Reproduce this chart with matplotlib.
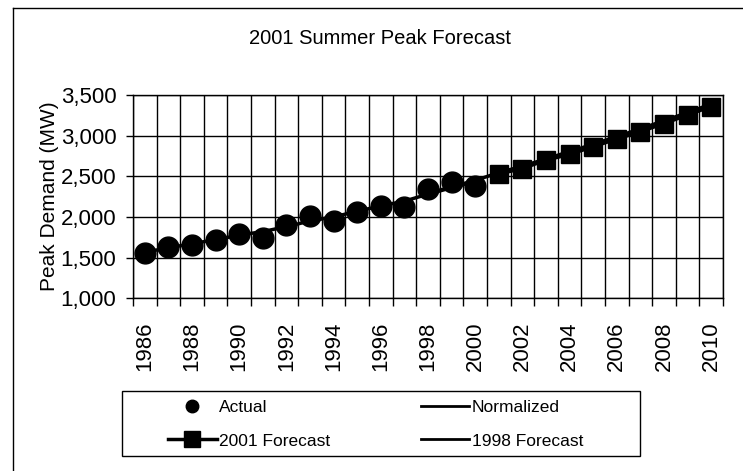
import matplotlib.pyplot as plt
from matplotlib.lines import Line2D
from matplotlib.patches import Rectangle

plt.rcParams['font.family'] = ['Liberation Sans', 'DejaVu Sans']

years = list(range(1986, 2011))

# actual peaks 1986-2000
actual_years = list(range(1986, 2001))
actual = [1550, 1630, 1655, 1715, 1795, 1745, 1905, 2015, 1945, 2065, 2130, 2125, 2345, 2425, 2375]

# normalized peaks 1986-2000
normalized = [1565, 1620, 1670, 1720, 1775, 1820, 1880, 1950, 2000, 2070, 2135, 2195, 2280, 2360, 2440]

# 1998 forecast, 1998-2010
f1998_years = list(range(1998, 2011))
forecast_1998 = [2290, 2370, 2450, 2545, 2625, 2715, 2805, 2895, 2990, 3085, 3185, 3285, 3390]

# 2001 forecast, 2001-2010
f2001_years = list(range(2001, 2011))
forecast_2001 = [2530, 2595, 2700, 2770, 2865, 2960, 3050, 3150, 3255, 3360]

yticks = [1000, 1500, 2000, 2500, 3000, 3500]


def pos(yrs):
    return [years.index(y) for y in yrs]


fig = plt.figure(figsize=(7.43, 4.71), dpi=100)
ax = fig.add_axes([0.179, 0.367, 0.794, 0.431])

ax.plot(pos(actual_years), normalized, color='black', lw=2.5, zorder=3)
ax.plot(pos(f1998_years), forecast_1998, color='black', lw=2.5, zorder=3)
ax.plot(pos(f2001_years), forecast_2001, color='black', lw=2.5, marker='s', ms=13, zorder=4)
ax.plot(pos(actual_years), actual, ls='none', marker='o', ms=15, color='black', zorder=5)

ax.set_xlim(-0.5, len(years) - 0.5)
ax.set_ylim(1000, 3500)
ax.set_yticks(yticks)
ax.set_yticklabels([f'{v:,}' for v in yticks], fontsize=16)

ax.set_xticks(range(0, len(years), 2))
ax.set_xticklabels([str(y) for y in years[::2]], rotation=90, fontsize=16)
ax.set_xticks([i + 0.5 for i in range(-1, len(years))], minor=True)
ax.tick_params(axis='x', which='major', length=0, pad=17)
ax.tick_params(axis='x', which='minor', length=6, direction='out', width=1)
ax.tick_params(axis='y', length=5, width=1, pad=7)

ax.grid(axis='y', color='black', lw=1)
ax.grid(axis='x', which='minor', color='black', lw=1)
ax.set_axisbelow(True)
for s in ax.spines.values():
    s.set_color('black')
    s.set_linewidth(1)

ax.set_ylabel('Peak Demand (MW)', fontsize=15, labelpad=1)

fig.text(0.511, 0.919, '2001 Summer Peak Forecast', ha='center', va='center', fontsize=14.5)

# legend box
fig.add_artist(Rectangle((122 / 743, 1 - 456 / 471), 518 / 743, 65 / 471,
                         transform=fig.transFigure, fill=False, ec='black', lw=1))
handles = [
    Line2D([], [], ls='none', marker='o', ms=9, color='black'),
    Line2D([], [], color='black', lw=2.5, marker='s', ms=11),
    Line2D([], [], color='black', lw=2),
    Line2D([], [], color='black', lw=2),
]
labels = ['Actual', '2001 Forecast', 'Normalized', '1998 Forecast']
fig.legend(handles, labels, ncol=2, fontsize=12.5, frameon=False,
           loc='upper left', bbox_to_anchor=(168 / 743, 1 - 400 / 471), borderaxespad=0,
           borderpad=0, handlelength=2.8, handletextpad=0.15, labelspacing=1.05,
           columnspacing=5.2)

# outer chart border (left and top visible)
fig.add_artist(Line2D([0.0175, 0.0175], [0.0, 0.983], color='black', lw=1))
fig.add_artist(Line2D([0.0175, 1.0], [0.983, 0.983], color='black', lw=1))

fig.savefig('out.png', dpi=100)
